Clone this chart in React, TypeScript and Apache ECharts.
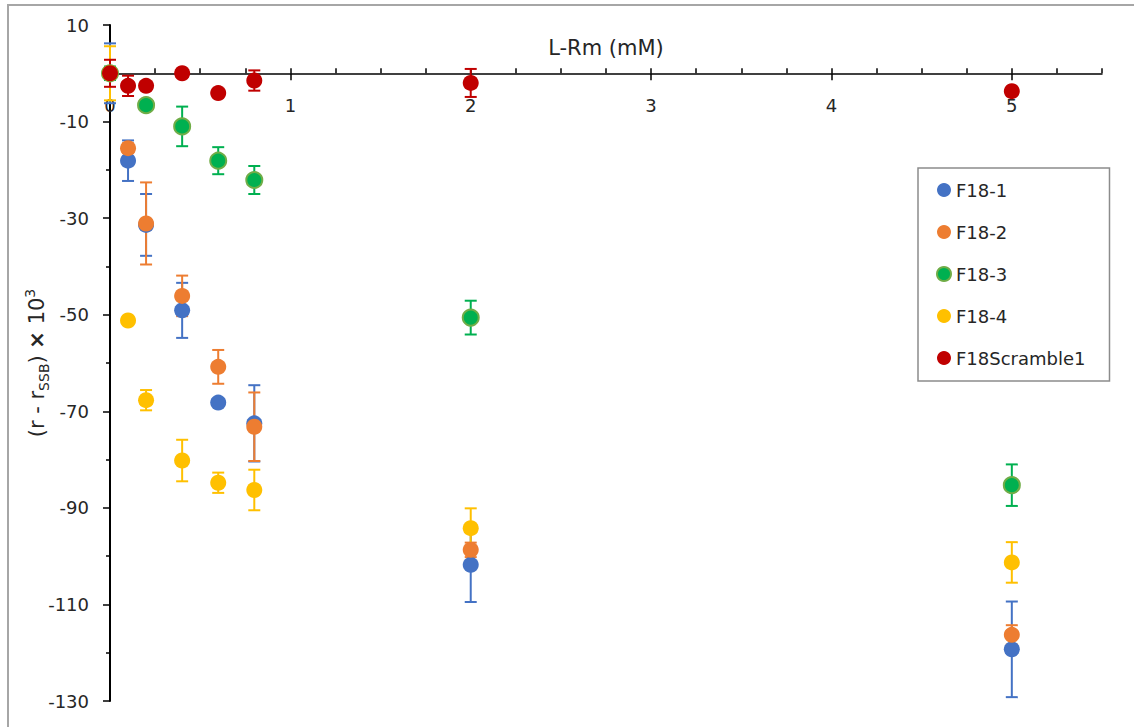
import React, { useEffect, useRef } from "react";
import * as echarts from "echarts";

// L-Rm concentration (mM)
const xValues = [0, 0.1, 0.2, 0.4, 0.6, 0.8, 2, 5];

const seriesNames = ["F18-1", "F18-2", "F18-3", "F18-4", "F18Scramble1"];

const f181Values = [0, -18.1, -31.4, -49.1, -68.2, -72.5, -101.8, -119.3];
const f181Errors = [6.2, 4.2, 6.4, 5.7, 0.5, 7.9, 7.7, 9.9];

const f182Values = [0, -15.5, -31.1, -46.1, -60.8, -73.2, -98.7, -116.3];
const f182Errors = [1.0, 1.0, 8.5, 4.2, 3.5, 7.1, 1.5, 2.0];

const f183Values = [0, null, -6.6, -11.0, -18.1, -22.1, -50.6, -85.3];
const f183Errors = [1.4, 0, 0.5, 4.1, 2.8, 2.9, 3.5, 4.3];

const f184Values = [0, -51.2, -67.7, -80.2, -84.8, -86.3, -94.2, -101.3];
const f184Errors = [5.6, 0, 2.1, 4.3, 2.1, 4.2, 4.1, 4.2];

const scrambleValues = [0, -2.6, -2.6, 0, -4.1, -1.5, -2.0, -3.7];
const scrambleErrors = [2.8, 2.1, 0, 0, 0, 2.1, 2.9, 0];

const yTickLabels = ["10", "-10", "-30", "-50", "-70", "-90", "-110", "-130"];

const allValues = [f181Values, f182Values, f183Values, f184Values, scrambleValues];
const allErrors = [f181Errors, f182Errors, f183Errors, f184Errors, scrambleErrors];
const colors = ["#4472C4", "#ED7D31", "#00B050", "#FFC000", "#C00000"];
const borderColors = ["#4472C4", "#ED7D31", "#70AD47", "#FFC000", "#C00000"];

const FONT = "'DejaVu Sans', 'Open Sans', sans-serif";
const TEXT = "#262626";

const X_MIN = 0;
const X_MAX = 5.5;
const Y_MIN = -130;
const Y_MAX = 10;

const GRID_LEFT = 110;
const GRID_RIGHT = 32;
const GRID_TOP = 25;
const GRID_BOTTOM = 26;
const CHART_H = 727;

export default function App() {
  const ref = useRef<HTMLDivElement>(null);

  useEffect(() => {
    if (!ref.current) return;
    const chart = echarts.init(ref.current, undefined, { renderer: "svg" });

    const plotH = CHART_H - GRID_TOP - GRID_BOTTOM;
    const zeroOffset = (plotH * (Y_MAX - 0)) / (Y_MAX - Y_MIN);

    const series: any[] = [];
    seriesNames.forEach((name, i) => {
      const pts: number[][] = [];
      const errPts: number[][] = [];
      xValues.forEach((x, j) => {
        const v = allValues[i][j];
        if (v === null || v === undefined) return;
        pts.push([x, v]);
        errPts.push([x, v, allErrors[i][j]]);
      });
      const color = colors[i];
      series.push({
        type: "custom",
        name: name + " error",
        xAxisIndex: 0,
        yAxisIndex: 0,
        data: errPts,
        encode: { x: 0, y: 1 },
        clip: false,
        silent: true,
        z: 2,
        renderItem: (params: any, api: any) => {
          const x = api.value(0);
          const y = api.value(1);
          const e = api.value(2);
          if (!e) return null;
          const top = api.coord([x, y + e]);
          const bot = api.coord([x, y - e]);
          const cap = 6;
          const st = { stroke: color, lineWidth: 2 };
          return {
            type: "group",
            children: [
              { type: "line", shape: { x1: top[0], y1: top[1], x2: bot[0], y2: bot[1] }, style: st },
              { type: "line", shape: { x1: top[0] - cap, y1: top[1], x2: top[0] + cap, y2: top[1] }, style: st },
              { type: "line", shape: { x1: bot[0] - cap, y1: bot[1], x2: bot[0] + cap, y2: bot[1] }, style: st },
            ],
          };
        },
      });
      series.push({
        type: "scatter",
        name,
        xAxisIndex: 0,
        yAxisIndex: 0,
        data: pts,
        symbol: "circle",
        symbolSize: 16,
        z: 3,
        itemStyle: {
          color,
          opacity: 1,
          borderColor: borderColors[i],
          borderWidth: i === 2 ? 2 : 0,
        },
      });
    });

    const option: any = {
      animation: false,
      backgroundColor: "#ffffff",
      textStyle: { fontFamily: FONT },
      graphic: [
        {
          type: "rect",
          silent: true,
          shape: { x: 8, y: 5, width: 1200, height: 800 },
          style: { fill: "none", stroke: "#A6A6A6", lineWidth: 2 },
        },
      ],
      grid: [
        {
          left: GRID_LEFT,
          right: GRID_RIGHT,
          top: GRID_TOP,
          bottom: GRID_BOTTOM,
          containLabel: false,
          outerBoundsMode: "none",
        },
        {
          left: GRID_LEFT,
          right: GRID_RIGHT,
          top: GRID_TOP,
          height: zeroOffset,
          containLabel: false,
          outerBoundsMode: "none",
        },
      ],
      legend: {
        data: seriesNames,
        orient: "vertical",
        left: 918,
        top: 168,
        icon: "circle",
        itemWidth: 14,
        itemHeight: 14,
        itemGap: 22,
        padding: [12, 24, 13, 18],
        borderColor: "#8C8C8C",
        borderWidth: 1.5,
        backgroundColor: "#ffffff",
        textStyle: { fontSize: 18, lineHeight: 20, color: TEXT, fontFamily: FONT },
      },
      xAxis: [
        {
          type: "value",
          gridIndex: 0,
          min: X_MIN,
          max: X_MAX,
          show: false,
          splitLine: { show: false },
        },
        {
          type: "value",
          gridIndex: 1,
          min: X_MIN,
          max: X_MAX,
          interval: 1,
          position: "bottom",
          axisLine: { show: true, onZero: false, lineStyle: { color: "#000", width: 1.5 } },
          axisTick: { show: true, inside: false, length: 7, lineStyle: { color: "#000", width: 1.5 } },
          axisLabel: {
            margin: 23,
            fontSize: 18,
            color: TEXT,
            fontFamily: FONT,
            showMaxLabel: false,
            formatter: (v: number) => (Number.isInteger(v) ? String(v) : ""),
          },
          splitLine: { show: false },
          name: "L-Rm (mM)",
          nameLocation: "middle",
          nameGap: -36,
          nameMoveOverlap: false,
          nameTextStyle: { fontSize: 21, color: TEXT, fontFamily: FONT },
        },
        {
          type: "value",
          gridIndex: 1,
          min: X_MIN,
          max: X_MAX,
          interval: 0.25,
          position: "bottom",
          axisLine: { show: false, onZero: false },
          axisTick: { show: true, inside: true, length: 5, lineStyle: { color: "#000", width: 1.5 } },
          axisLabel: { show: false },
          splitLine: { show: false },
        },
      ],
      yAxis: [
        {
          type: "value",
          gridIndex: 0,
          min: Y_MIN,
          max: Y_MAX,
          interval: 20,
          axisLine: { show: true, onZero: false, lineStyle: { color: "#000", width: 2 } },
          axisTick: { show: true, inside: false, length: 7, lineStyle: { color: "#000", width: 1.5 } },
          minorTick: { show: true, splitNumber: 2, length: 4, lineStyle: { color: "#000", width: 1.5 } },
          axisLabel: {
            margin: 21,
            fontSize: 18,
            color: TEXT,
            fontFamily: FONT,
            formatter: (v: number) => {
              const s = String(Math.round(v));
              return yTickLabels.indexOf(s) >= 0 ? s : "";
            },
          },
          splitLine: { show: false },
          name: "{a|(r - r}{sub|SSB}{a|) }{b|×}{a| 10}{sup|3}",
          nameLocation: "middle",
          nameRotate: 90,
          nameGap: 59,
          nameMoveOverlap: false,
          nameTextStyle: {
            color: TEXT,
            fontFamily: FONT,
            fontSize: 21,
            rich: {
              a: { fontSize: 21, lineHeight: 28, color: TEXT, fontFamily: FONT },
              b: { fontSize: 21, lineHeight: 28, fontWeight: "bold", color: TEXT, fontFamily: FONT },
              sub: { fontSize: 14, lineHeight: 15, verticalAlign: "bottom", color: TEXT, fontFamily: FONT },
              sup: { fontSize: 14, lineHeight: 15, verticalAlign: "top", color: TEXT, fontFamily: FONT },
            },
          },
        },
        {
          type: "value",
          gridIndex: 1,
          min: 0,
          max: 1,
          show: false,
          splitLine: { show: false },
        },
      ],
      series,
    };

    chart.setOption(option);
    return () => chart.dispose();
  }, []);

  return (
    <div
      ref={ref}
      style={{ position: "fixed", left: 0, top: 0, width: 1134, height: 727, background: "#fff" }}
    />
  );
}
